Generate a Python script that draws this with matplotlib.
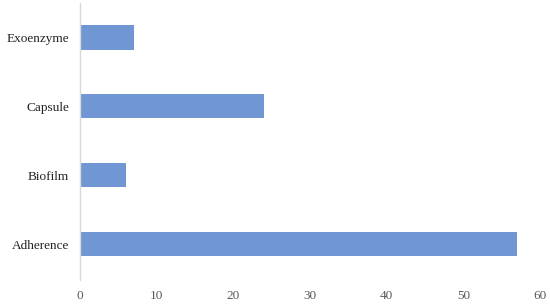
import matplotlib

matplotlib.use("Agg")

import matplotlib.pyplot as plt

CATEGORIES = ["Adherence", "Biofilm", "Capsule", "Exoenzyme"]
COUNTS = [57, 6, 24, 7]
X_TICKS = [0, 10, 20, 30, 40, 50, 60]

BAR_COLOR = "#7196D4"
AXIS_COLOR = "#D9D9D9"
TEXT_COLOR = "#595959"

plt.rcParams["font.family"] = ["Liberation Serif", "DejaVu Serif"]

figure = plt.figure(figsize=(5.5, 3.04), dpi=100)
axis = figure.add_axes([80 / 550, (304 - 280) / 304, 460 / 550, 277 / 304])

positions = range(len(CATEGORIES))
axis.barh(positions, COUNTS, height=0.35, color=BAR_COLOR)

axis.set_xlim(0, 60)
axis.set_ylim(-0.52, 3.5)
axis.set_xticks(X_TICKS)
axis.set_xticklabels([str(t) for t in X_TICKS], fontsize=9.5, color=TEXT_COLOR)
axis.set_yticks(list(positions))
axis.set_yticklabels(CATEGORIES, fontsize=9.5, color="#222222")
axis.tick_params(axis="both", length=0)
axis.tick_params(axis="x", pad=7.5)
axis.tick_params(axis="y", pad=8)

for side in ["top", "right", "bottom"]:
    axis.spines[side].set_visible(False)
axis.spines["left"].set_color(AXIS_COLOR)
axis.spines["left"].set_linewidth(1)

figure.savefig("out.png", dpi=100)
plt.close(figure)
